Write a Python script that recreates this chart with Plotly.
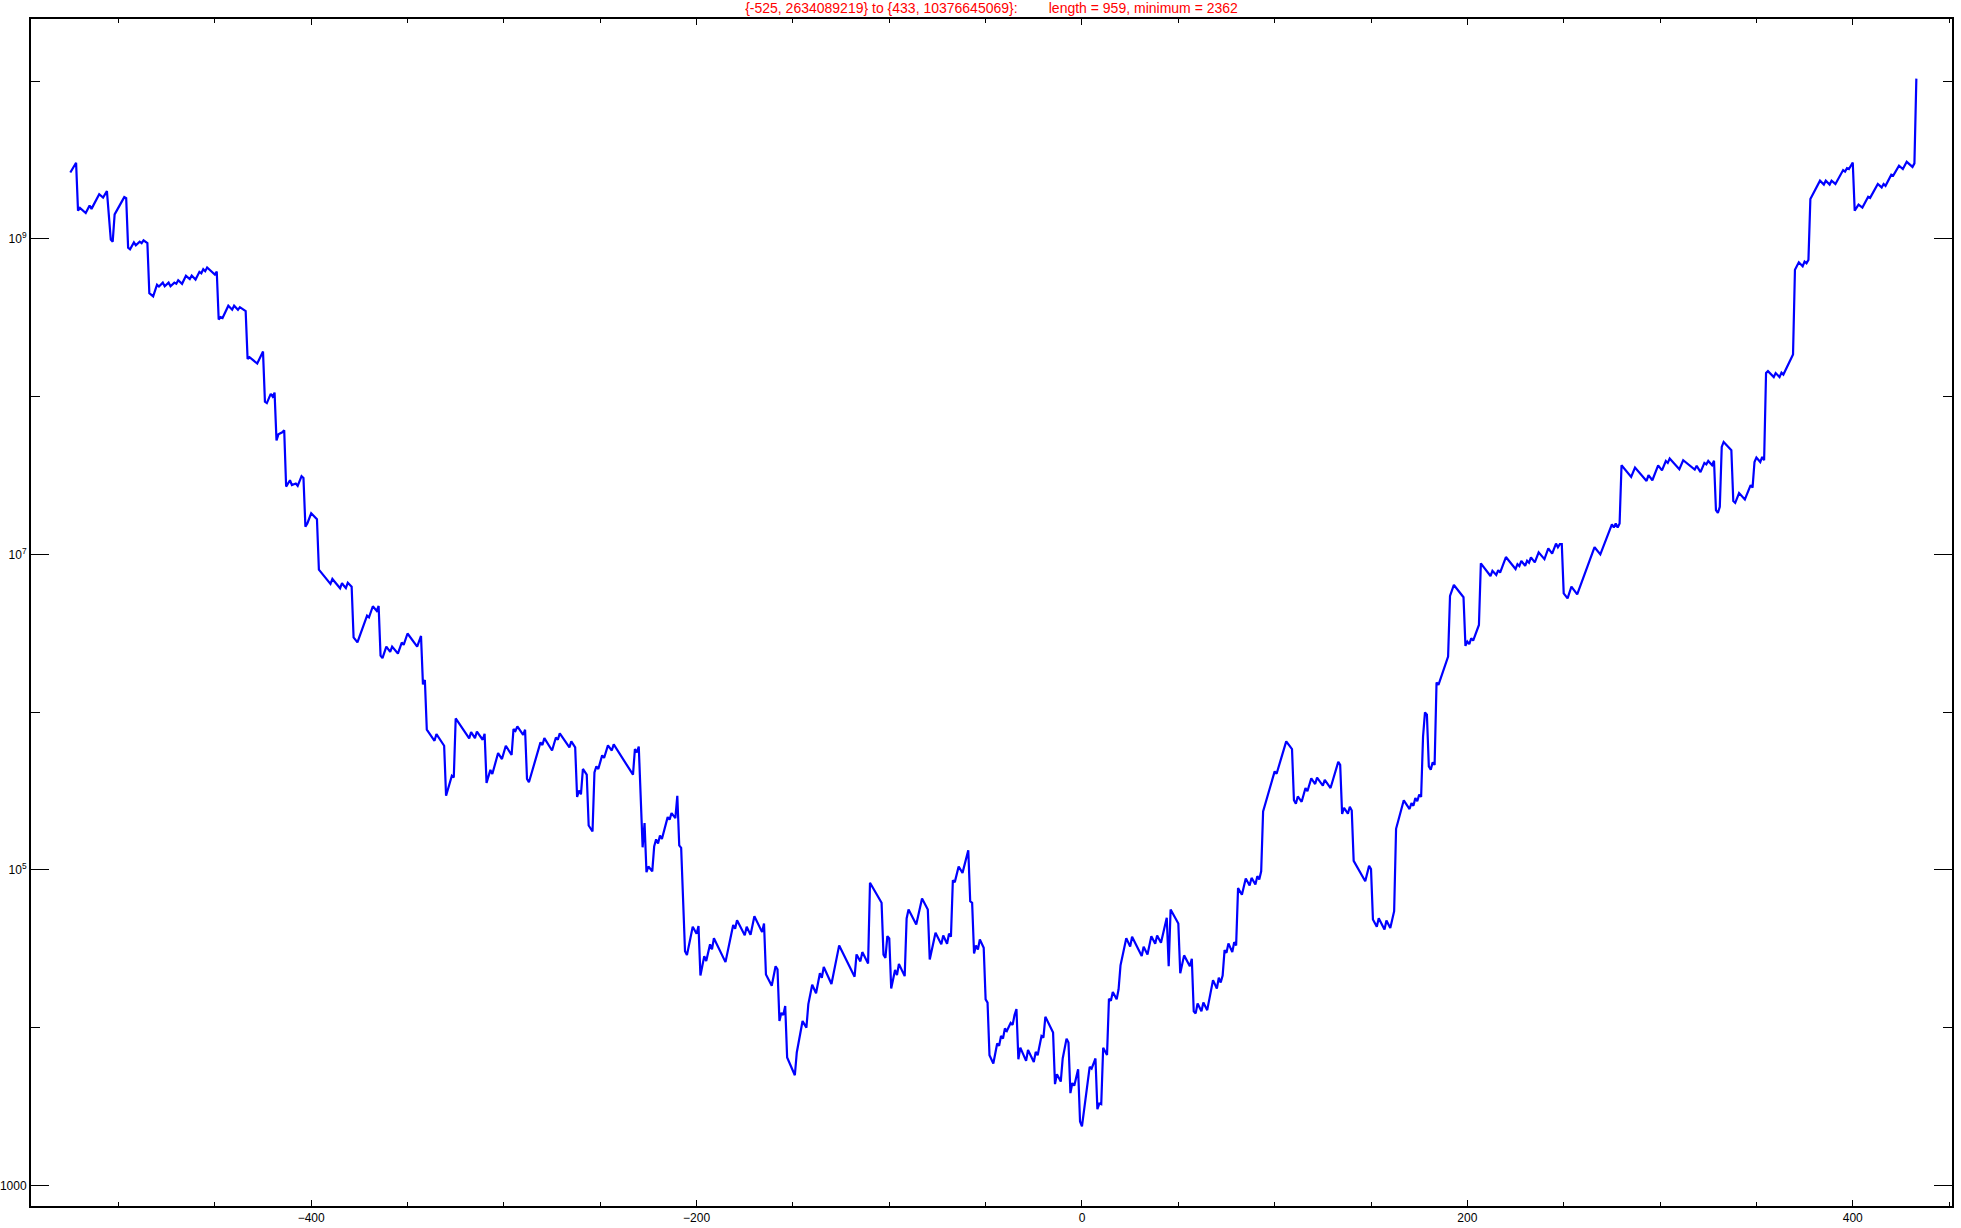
import plotly.graph_objects as go

# walk positions (vertices)
x_pos = [
    -525, -522, -521, -520, -517, -515, -514, -510, -508, -506,
    -504, -503, -502, -497, -496, -495, -494, -492, -491, -489,
    -488, -487, -485, -484, -482, -480, -479, -477, -476, -474,
    -473, -471, -470, -469, -467, -465, -463, -462, -460, -458,
    -457, -456, -455, -454, -450, -449, -448, -447, -446, -443,
    -441, -440, -438, -437, -434, -433, -432, -428, -425, -424,
    -423, -421, -420, -419, -418, -417, -415, -414, -413, -411,
    -410, -408, -407, -405, -404, -403, -402, -400, -397, -396,
    -390, -389, -385, -384, -383, -382, -381, -379, -378, -376,
    -371, -370, -368, -366, -365, -364, -363, -361, -359, -358,
    -355, -353, -352, -350, -345, -343, -342, -341, -340, -336,
    -335, -331, -330, -327, -326, -325, -318, -317, -315, -314,
    -311, -310, -309, -307, -306, -303, -301, -299, -296, -295,
    -294, -293, -290, -289, -288, -287, -281, -280, -279, -275,
    -273, -272, -271, -266, -265, -263, -262, -261, -260, -259,
    -257, -256, -254, -253, -252, -251, -249, -248, -246, -244,
    -243, -233, -232, -231, -230, -228, -227, -226, -225, -223,
    -222, -221, -220, -219, -218, -215, -214, -213, -211, -210,
    -209, -208, -206, -205, -202, -200, -199, -198, -196, -195,
    -193, -192, -191, -185, -181, -180, -179, -175, -174, -172,
    -170, -166, -165, -164, -161, -159, -158, -157, -156, -155,
    -154, -153, -149, -148, -145, -143, -142, -140, -138, -136,
    -135, -134, -130, -126, -118, -117, -115, -114, -111, -110,
    -104, -103, -102, -101, -100, -99, -97, -96, -95, -92,
    -91, -90, -86, -83, -80, -79, -76, -73, -72, -70,
    -69, -68, -67, -66, -64, -62, -59, -58, -57, -56,
    -55, -54, -53, -51, -50, -49, -48, -46, -44, -43,
    -42, -41, -40, -39, -37, -36, -35, -34, -33, -32,
    -29, -28, -25, -24, -23, -21, -20, -19, -15, -14,
    -13, -11, -10, -8, -7, -6, -5, -4, -2, -1,
    0, 4, 5, 7, 8, 9, 10, 11, 13, 14,
    15, 16, 18, 19, 20, 23, 25, 26, 31, 32,
    34, 36, 38, 39, 41, 44, 45, 46, 50, 51,
    53, 56, 57, 58, 59, 60, 62, 63, 65, 68,
    70, 71, 72, 73, 74, 75, 76, 78, 79, 80,
    81, 83, 85, 87, 88, 90, 91, 92, 93, 94,
    100, 101, 106, 109, 110, 111, 112, 114, 116, 117,
    119, 121, 122, 125, 126, 129, 133, 134, 135, 136,
    138, 139, 140, 141, 147, 149, 150, 151, 153, 154,
    157, 158, 160, 162, 163, 167, 170, 171, 172, 173,
    174, 175, 176, 177, 178, 179, 180, 181, 182, 183,
    184, 185, 190, 191, 193, 198, 199, 200, 201, 202,
    203, 206, 207, 212, 213, 215, 216, 217, 220, 225,
    226, 227, 228, 230, 231, 232, 233, 235, 237, 240,
    242, 244, 246, 247, 248, 249, 250, 252, 254, 257,
    266, 269, 275, 276, 277, 278, 279, 280, 285, 287,
    293, 294, 296, 299, 301, 303, 304, 305, 310, 312,
    318, 319, 321, 323, 324, 325, 327, 328, 329, 330,
    331, 332, 333, 337, 338, 339, 341, 344, 347, 348,
    349, 350, 352, 353, 354, 355, 356, 359, 360, 362,
    363, 364, 369, 370, 372, 374, 375, 376, 377, 378,
    383, 385, 386, 388, 389, 391, 395, 396, 397, 398,
    400, 401, 403, 405, 408, 409, 413, 415, 416, 417,
    420, 421, 424, 426, 428, 431, 432, 433,
]

counts = [
    2634089219, 3.04e9, 1.51e9, 1.57e9, 1.46e9, 1.63e9, 1.55e9, 1.92e9, 1.83e9, 2.01e9,
    9.9e8, 9.6e8, 1.43e9, 1.84e9, 1.81e9, 8.8e8, 8.6e8, 9.5e8, 9.1e8, 9.6e8,
    9.4e8, 9.8e8, 9.4e8, 4.53e8, 4.32e8, 5.12e8, 4.99e8, 5.28e8, 5.01e8, 5.28e8,
    5.01e8, 5.28e8, 5.19e8, 5.47e8, 5.19e8, 5.83e8, 5.56e8, 5.86e8, 5.52e8, 6.18e8,
    6.05e8, 6.43e8, 6.24e8, 6.58e8, 5.94e8, 6.21e8, 3.08e8, 3.19e8, 3.15e8, 3.77e8,
    3.56e8, 3.77e8, 3.55e8, 3.69e8, 3.48e8, 1.73e8, 1.78e8, 1.62e8, 1.93e8, 9.3e7,
    9.1e7, 1.04e8, 1.00e8, 1.06e8, 5.28e7, 5.77e7, 5.94e7, 6.12e7, 2.69e7, 2.95e7,
    2.75e7, 2.81e7, 2.72e7, 3.13e7, 3.05e7, 1.50e7, 1.57e7, 1.82e7, 1.67e7, 8.0e6,
    6.5e6, 6.98e6, 6.10e6, 6.58e6, 6.32e6, 6.12e6, 6.61e6, 6.24e6, 2.98e6, 2.77e6,
    4.09e6, 3.99e6, 4.69e6, 4.38e6, 4.71e6, 2.28e6, 2.20e6, 2.60e6, 2.41e6, 2.60e6,
    2.35e6, 2.76e6, 2.67e6, 3.15e6, 2.60e6, 3.04e6, 1.50e6, 1.60e6, 7.73e5, 6.58e5,
    7.26e5, 6.12e5, 2.95e5, 3.95e5, 3.85e5, 9.12e5, 6.81e5, 7.46e5, 6.84e5, 7.53e5,
    6.68e5, 7.29e5, 3.56e5, 4.30e5, 4.05e5, 5.50e5, 5.04e5, 6.12e5, 5.35e5, 7.80e5,
    7.60e5, 8.11e5, 7.18e5, 7.73e5, 3.77e5, 3.59e5, 6.43e5, 6.18e5, 6.84e5, 5.71e5,
    6.90e5, 6.68e5, 7.33e5, 5.97e5, 6.52e5, 5.97e5, 2.90e5, 3.18e5, 3.01e5, 4.36e5,
    4.01e5, 1.91e5, 1.75e5, 4.15e5, 4.53e5, 4.36e5, 5.32e5, 5.12e5, 6.15e5, 5.71e5,
    6.24e5, 4.01e5, 5.83e5, 5.56e5, 6.05e5, 1.39e5, 1.98e5, 9.66e4, 1.05e5, 9.79e4,
    1.41e5, 1.56e5, 1.47e5, 1.65e5, 1.57e5, 2.16e5, 2.08e5, 2.29e5, 2.13e5, 2.95e5,
    1.43e5, 1.38e5, 3.05e4, 2.88e4, 4.36e4, 3.94e4, 4.40e4, 2.14e4, 2.84e4, 2.64e4,
    3.37e4, 3.13e4, 3.69e4, 2.60e4, 4.47e4, 4.23e4, 4.80e4, 3.85e4, 4.36e4, 3.87e4,
    5.08e4, 4.03e4, 4.57e4, 2.17e4, 1.84e4, 2.45e4, 2.34e4, 1.10e4, 1.24e4, 1.20e4,
    1.37e4, 6.46e3, 4.99e3, 6.95e3, 1.10e4, 1.00e4, 1.41e4, 1.87e4, 1.65e4, 2.21e4,
    2.07e4, 2.42e4, 1.89e4, 3.32e4, 2.10e4, 2.91e4, 2.63e4, 3.01e4, 2.55e4, 8.28e4,
    6.18e4, 2.90e4, 2.77e4, 3.80e4, 3.67e4, 1.77e4, 2.32e4, 2.15e4, 2.53e4, 2.12e4,
    4.92e4, 5.61e4, 4.51e4, 6.58e4, 5.61e4, 2.70e4, 3.99e4, 3.37e4, 3.84e4, 3.40e4,
    3.94e4, 3.77e4, 8.59e4, 8.36e4, 1.05e5, 9.57e4, 1.33e5, 6.32e4, 6.18e4, 2.95e4,
    3.32e4, 3.13e4, 3.62e4, 3.21e4, 1.51e4, 1.44e4, 6.68e3, 5.92e3, 7.93e3, 7.66e3,
    8.85e3, 8.51e3, 9.86e3, 9.53e3, 1.07e4, 1.04e4, 1.20e4, 1.31e4, 6.30e3, 7.46e3,
    6.15e3, 7.21e3, 6.05e3, 7.01e3, 6.68e3, 8.85e3, 8.65e3, 1.17e4, 9.29e3, 4.38e3,
    5.06e3, 4.55e3, 6.37e3, 8.51e3, 8.04e3, 3.84e3, 4.45e3, 4.28e3, 5.45e3, 2.54e3,
    2362, 5.64e3, 5.50e3, 6.37e3, 3.04e3, 3.30e3, 3.27e3, 7.46e3, 6.71e3, 1.52e4,
    1.48e4, 1.68e4, 1.51e4, 1.75e4, 2.48e4, 3.69e4, 3.26e4, 3.77e4, 2.84e4, 3.26e4,
    2.91e4, 3.80e4, 3.40e4, 3.84e4, 3.45e4, 4.97e4, 2.45e4, 5.61e4, 4.57e4, 2.21e4,
    2.87e4, 2.45e4, 2.73e4, 1.27e4, 1.23e4, 1.42e4, 1.27e4, 1.44e4, 1.29e4, 2.00e4,
    1.77e4, 2.07e4, 1.93e4, 2.14e4, 3.10e4, 2.98e4, 3.42e4, 3.01e4, 3.48e4, 3.32e4,
    7.66e4, 6.95e4, 8.81e4, 7.96e4, 8.89e4, 8.07e4, 9.12e4, 8.69e4, 9.79e4, 2.35e5,
    4.21e5, 4.07e5, 6.52e5, 5.83e5, 2.76e5, 2.63e5, 2.92e5, 2.70e5, 3.30e5, 3.15e5,
    3.80e5, 3.50e5, 3.84e5, 3.42e5, 3.72e5, 3.30e5, 4.84e5, 4.63e5, 2.26e5, 2.47e5,
    2.27e5, 2.51e5, 2.38e5, 1.14e5, 8.47e4, 1.06e5, 1.01e5, 4.84e4, 4.36e4, 4.94e4,
    4.19e4, 4.78e4, 4.28e4, 5.47e4, 1.82e5, 2.76e5, 2.43e5, 2.65e5, 2.55e5, 2.85e5,
    2.72e5, 3.00e5, 2.90e5, 7.01e5, 9.95e5, 9.62e5, 4.53e5, 4.32e5, 4.80e5, 4.63e5,
    1.54e6, 1.49e6, 2.25e6, 5.45e6, 6.40e6, 5.35e6, 2.63e6, 2.80e6, 2.70e6, 2.94e6,
    2.84e6, 3.57e6, 8.77e6, 7.29e6, 7.87e6, 7.40e6, 7.94e6, 7.66e6, 9.62e6, 8.07e6,
    8.67e6, 8.43e6, 9.08e6, 8.47e6, 9.12e6, 8.85e6, 9.57e6, 8.89e6, 1.03e7, 9.33e6,
    1.09e7, 1.01e7, 1.17e7, 1.11e7, 1.16e7, 1.16e7, 5.66e6, 5.26e6, 6.24e6, 5.57e6,
    1.11e7, 1.00e7, 1.55e7, 1.48e7, 1.57e7, 1.48e7, 1.57e7, 3.67e7, 3.10e7, 3.55e7,
    2.92e7, 3.18e7, 2.95e7, 3.67e7, 3.41e7, 3.91e7, 3.80e7, 4.05e7, 3.47e7, 3.95e7,
    3.45e7, 3.64e7, 3.32e7, 3.80e7, 3.72e7, 3.91e7, 3.67e7, 3.92e7, 1.91e7, 1.83e7,
    2.00e7, 4.80e7, 5.16e7, 4.57e7, 2.18e7, 2.12e7, 2.45e7, 2.23e7, 2.75e7, 2.65e7,
    3.85e7, 4.11e7, 3.85e7, 4.15e7, 3.95e7, 1.41e8, 1.45e8, 1.33e8, 1.41e8, 1.33e8,
    1.42e8, 1.38e8, 1.85e8, 6.37e8, 7.11e8, 6.71e8, 7.18e8, 7.01e8, 7.36e8, 1.79e9,
    2.34e9, 2.21e9, 2.34e9, 2.21e9, 2.34e9, 2.23e9, 2.73e9, 2.67e9, 2.81e9, 2.77e9,
    3.05e9, 1.51e9, 1.65e9, 1.58e9, 1.85e9, 1.82e9, 2.23e9, 2.12e9, 2.23e9, 2.17e9,
    2.55e9, 2.52e9, 2.91e9, 2.77e9, 3.08e9, 2.86e9, 3.01e9, 10376645069,
]

# summary shown in the title
start_point = (-525, 2634089219)
end_point = (433, 10376645069)
walk_length = 959
walk_minimum = 2362

x_ticks = [-400, -200, 0, 200, 400]
x_labels = ["\u2212400", "\u2212200", "0", "200", "400"]
y_ticks = [1e3, 1e5, 1e7, 1e9]
y_labels = ["1000", "10<sup>5</sup>", "10<sup>7</sup>", "10<sup>9</sup>"]
y_minor = [1e4, 1e6, 1e8, 1e10]

gap = "&nbsp;" * 8
title = (f"{{{start_point[0]}, {start_point[1]}}} to {{{end_point[0]}, {end_point[1]}}}:"
         f"{gap}length = {walk_length}, minimum = {walk_minimum}")

fig = go.Figure()
fig.add_trace(go.Scatter(x=x_pos, y=counts, mode='lines',
                         line=dict(color='#0000ff', width=2.2), showlegend=False))

fig.update_layout(
    width=1961, height=1228,
    margin=dict(l=31, r=9, t=19, b=22, autoexpand=False),
    paper_bgcolor='white', plot_bgcolor='white',
    font=dict(family='Liberation Sans, Arial, sans-serif', size=12, color='black'),
    title=dict(text=title, x=0.5, xref='paper', xanchor='center',
               y=1, yref='container', yanchor='top', pad=dict(t=3),
               font=dict(color='#ff0000', size=14)),
)

fig.update_xaxes(
    range=[-545.4, 451.5], showgrid=False, zeroline=False, automargin=False,
    showline=True, linecolor='black', linewidth=2, mirror='ticks',
    tickmode='array', tickvals=x_ticks, ticktext=x_labels,
    ticks='inside', ticklen=6, tickwidth=1, tickcolor='black',
    minor=dict(dtick=50, tick0=0, ticks='inside', ticklen=4, tickwidth=1, tickcolor='black'),
)
fig.update_yaxes(
    type='log', range=[2.869, 10.394], showgrid=False, zeroline=False, automargin=False,
    showline=True, linecolor='black', linewidth=2, mirror='ticks',
    tickmode='array', tickvals=y_ticks, ticktext=y_labels,
    ticks='inside', ticklen=18, tickwidth=1, tickcolor='black',
    minor=dict(tickmode='array', tickvals=y_minor, ticks='inside', ticklen=9,
               tickwidth=1, tickcolor='black'),
)

# drop the page's default 8px body margin so the figure sits flush in the window
fig.write_html("out.html", config={'displayModeBar': False},
               post_script="document.body.style.margin = '0';")
